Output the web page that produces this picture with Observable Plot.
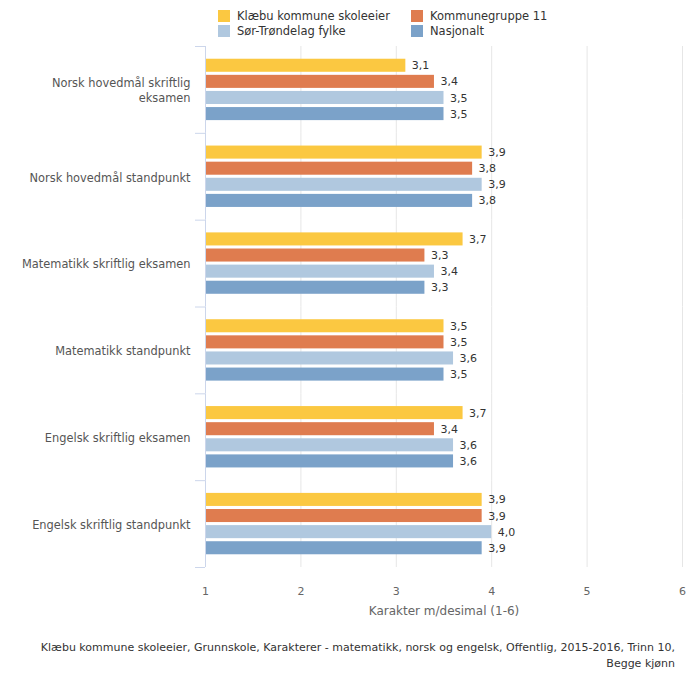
<!DOCTYPE html>
<html>
<head>
<meta charset="utf-8">
<script src="https://cdn.jsdelivr.net/npm/d3@7"></script>
<script src="https://cdn.jsdelivr.net/npm/@observablehq/plot@0.6"></script>
<style>
  body { margin: 0; background: #fff; font-family: "DejaVu Sans", sans-serif; }
  #wrap { width: 700px; position: relative; }
  #legend { height: 40px; position: relative; font-size: 11.5px; color: #333; }
  .item { position: absolute; display: flex; align-items: center; white-space: nowrap; }
  .sw { width: 12px; height: 12px; margin-right: 7px; }
  #chart svg { display: block; }
  #caption { text-align: right; font-size: 11px; color: #333; padding-right: 25px; line-height: 16px; margin-top: 10px; }
</style>
</head>
<body>
<div id="wrap">
  <div id="legend"></div>
  <div id="chart"></div>
  <div id="caption">Klæbu kommune skoleeier, Grunnskole, Karakterer - matematikk, norsk og engelsk, Offentlig, 2015-2016, Trinn 10,<br>Begge kjønn</div>
</div>
<script>
const categories = [
  "Norsk hovedmål skriftlig eksamen",
  "Norsk hovedmål standpunkt",
  "Matematikk skriftlig eksamen",
  "Matematikk standpunkt",
  "Engelsk skriftlig eksamen",
  "Engelsk skriftlig standpunkt"
];
const series = ["Klæbu kommune skoleeier", "Kommunegruppe 11", "Sør-Trøndelag fylke", "Nasjonalt"];
const colors = ["#fbc841", "#df7c4f", "#b0c8df", "#7ba2c9"];
const klaebu = [3.1, 3.9, 3.7, 3.5, 3.7, 3.9];
const kommunegruppe = [3.4, 3.8, 3.3, 3.5, 3.4, 3.9];
const fylke = [3.5, 3.9, 3.4, 3.6, 3.6, 4.0];
const nasjonalt = [3.5, 3.8, 3.3, 3.5, 3.6, 3.9];
const xTicks = [1, 2, 3, 4, 5, 6];
const xLabel = "Karakter m/desimal (1-6)";

const seriesValues = [klaebu, kommunegruppe, fylke, nasjonalt];
const data = [];
categories.forEach((c, i) => series.forEach((s, j) => data.push({category: c, series: s, value: seriesValues[j][i]})));

// legend
const legend = document.getElementById("legend");
const legendPos = [[218, 9], [411, 9], [218, 24], [411, 24]];
series.forEach((s, j) => {
  const it = document.createElement("div");
  it.className = "item";
  it.style.left = legendPos[j][0] + "px";
  it.style.top = legendPos[j][1] + "px";
  it.innerHTML = `<div class="sw" style="background:${colors[j]}"></div><span>${s}</span>`;
  legend.appendChild(it);
});

function wrap(label) {
  if (label.length <= 30) return label;
  const k = label.lastIndexOf(" ");
  return label.slice(0, k) + "\n" + label.slice(k + 1);
}
const fmt = v => v.toFixed(1).replace(".", ",");

// layout
const W = 700, H = 590, mT = 6, mB = 63, mL = 205, mR = 18;
const pInner = 0.19, pOuter = 0.79;
const facetH = (H - mT - mB) / categories.length;
const step = facetH / (series.length - pInner + 2 * pOuter);
const edgeOffset = pOuter * step + (1 - pInner) * step / 2; // from first band centre to facet top
const tickLen = 10 * (xTicks[xTicks.length - 1] - xTicks[0]) / (W - mL - mR);

const chart = Plot.plot({
  width: W,
  height: H,
  marginTop: mT,
  marginLeft: mL,
  marginRight: mR,
  marginBottom: mB,
  style: {fontFamily: "DejaVu Sans, sans-serif", fontSize: "11px", color: "#333", background: "#fff"},
  x: {domain: [xTicks[0], xTicks[xTicks.length - 1]], axis: null},
  y: {domain: series, axis: null, paddingInner: pInner, paddingOuter: pOuter, round: false},
  fy: {domain: categories, padding: 0, axis: null, round: false},
  color: {domain: series, range: colors},
  marks: [
    Plot.gridX(xTicks.slice(1), {stroke: "#e6e6e6", strokeOpacity: 1}),
    Plot.barX(data, {x1: xTicks[0], x2: "value", y: "series", fy: "category", fill: "series"}),
    Plot.text(data, {x: "value", y: "series", fy: "category", text: d => fmt(d.value), dx: 6, textAnchor: "start", fill: "#333", fontSize: 11}),
    Plot.ruleX([xTicks[0]], {stroke: "#ccd6eb"}),
    Plot.ruleY(categories, {fy: d => d, y: () => series[0], x1: xTicks[0] - tickLen, x2: xTicks[0], dy: -edgeOffset, stroke: "#ccd6eb"}),
    Plot.ruleY(categories.slice(-1), {fy: d => d, y: () => series[series.length - 1], x1: xTicks[0] - tickLen, x2: xTicks[0], dy: edgeOffset, stroke: "#ccd6eb"}),
    Plot.axisFy({anchor: "left", tickSize: 0, tickPadding: 15, label: null, tickFormat: wrap, fontSize: 11.4, fill: "#555", lineHeight: 1.3}),
    Plot.axisX(xTicks, {anchor: "bottom", tickSize: 0, tickPadding: 20, fill: "#666", fontSize: 11, label: null}),
    Plot.text([xLabel], {frameAnchor: "bottom", dy: 47, fill: "#666", fontSize: 12, facet: "super"})
  ]
});
document.getElementById("chart").appendChild(chart);
</script>
</body>
</html>
